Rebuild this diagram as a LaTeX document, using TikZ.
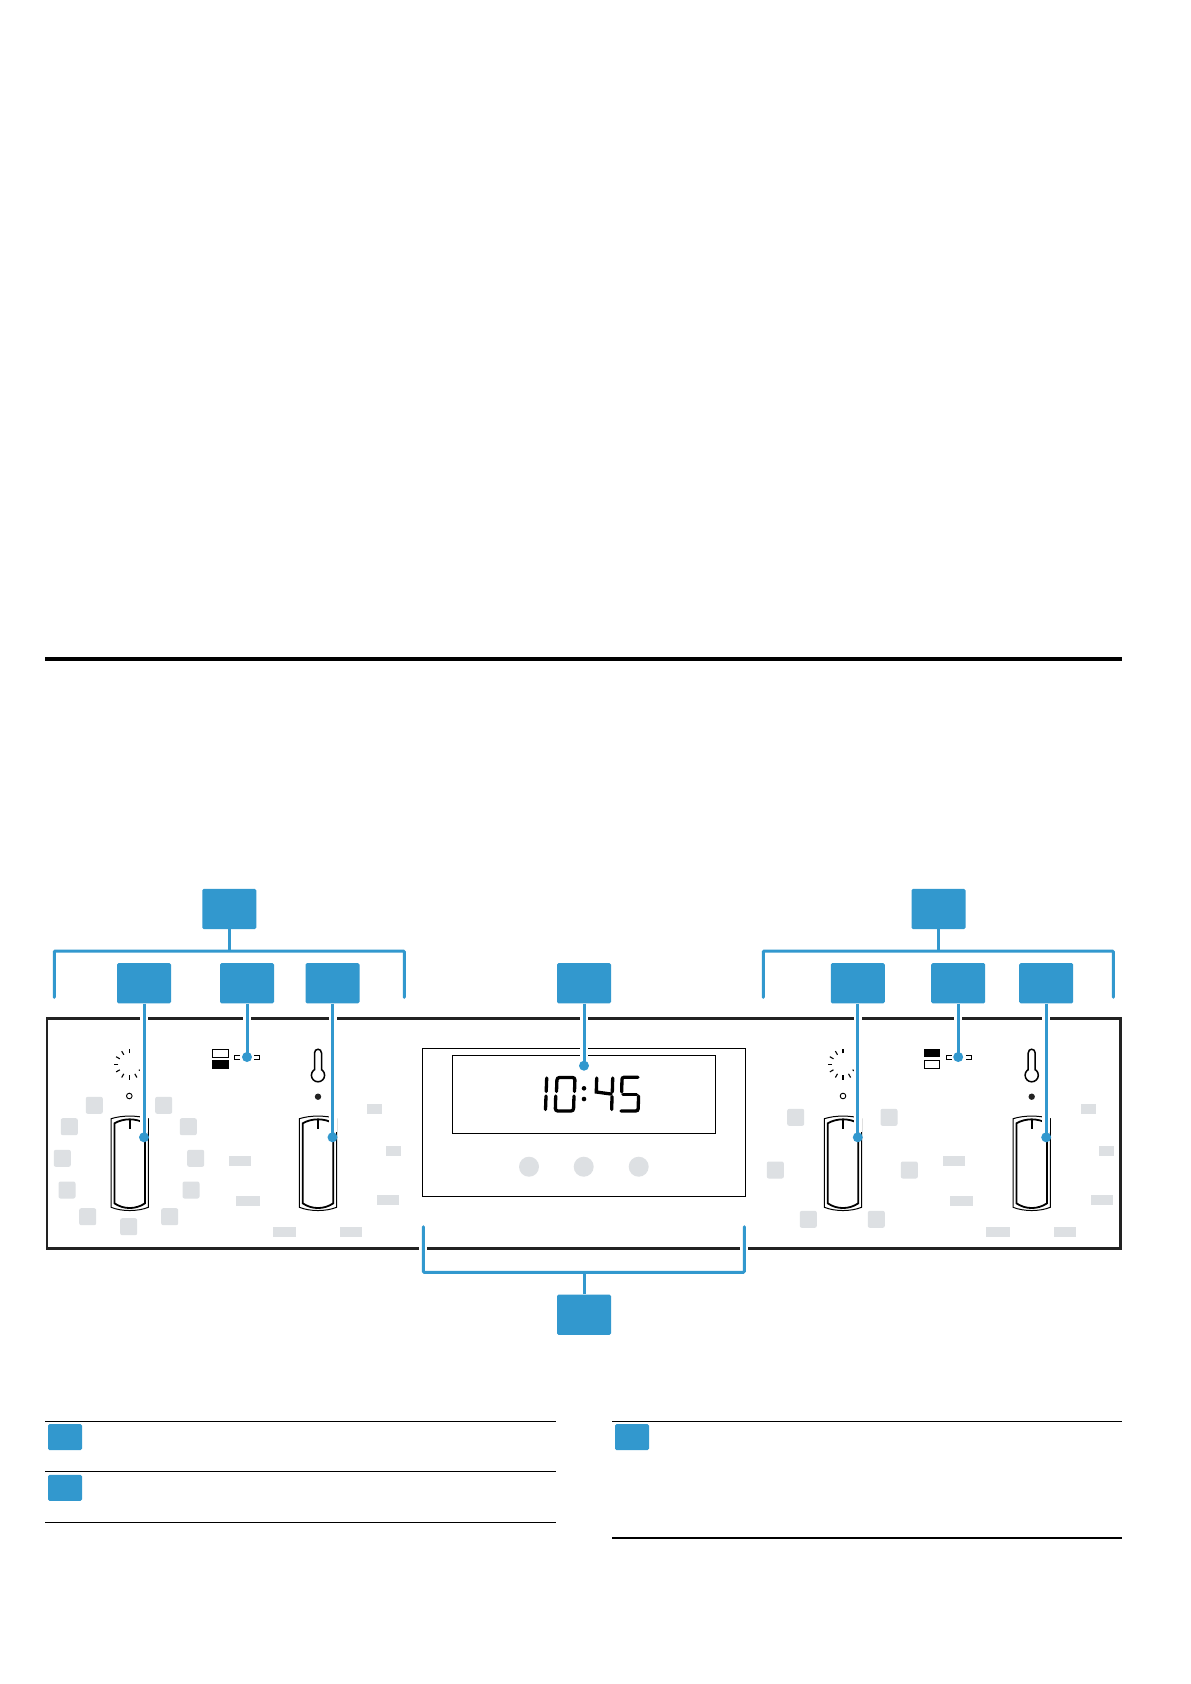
\documentclass[tikz,border=0pt]{standalone}
\usetikzlibrary{positioning}

\definecolor{tagblue}{HTML}{3298CE}
\definecolor{keygrey}{HTML}{DDE0E3}
\definecolor{panelblack}{HTML}{222222}

\tikzset{
    tag/.style={rectangle, rounded corners=1.5pt, fill=tagblue, minimum width=54pt, minimum height=40.3pt, inner sep=0pt},
    smalltag/.style={rectangle, rounded corners=1.5pt, fill=tagblue, minimum width=34pt, minimum height=26pt, inner sep=0pt},
    dot/.style={circle, fill=tagblue, minimum size=10pt, inner sep=0pt},
    lead/.style={tagblue, line width=3pt},
    bracket/.style={tagblue, line width=3pt, rounded corners=1pt, line cap=round},
    halo/.style={white, line width=8pt},
    rule/.style={black, line width=1.2pt},
    greykey/.style={rectangle, rounded corners=2pt, fill=keygrey, minimum size=17pt, inner sep=0pt},
    greylabel/.style={rectangle, fill=keygrey, minimum height=10.3pt, inner sep=0pt},
    button/.style={circle, fill=keygrey, minimum size=20pt, inner sep=0pt},
    segment/.style={black, line width=3.3pt, line cap=round},
}

% one rotary knob with its marker
\newcommand{\knob}[1]{
    \begin{scope}[shift={(#1,0)}]
        \draw[line width=1pt] (-18.6,1118.7) .. controls (-8,1115.2) and (8,1115.2) .. (18.6,1118.7) -- (18.6,1207.3) .. controls (8,1211.6) and (-8,1211.6) .. (-18.6,1207.3) -- cycle;
        \draw[line width=1.8pt] (-15.3,1123.3) .. controls (-6,1118) and (6,1118) .. (15.3,1123.3) -- (15.3,1203.3) .. controls (6,1209.6) and (-6,1209.6) .. (-15.3,1203.3) -- cycle;
        \draw[line width=1.8pt] (0,1119) -- (0,1129);
    \end{scope}
}
% spinning mode symbol and open lamp
\newcommand{\spinner}[1]{
    \begin{scope}[shift={(#1,1064.3)}]
        \foreach \a in {-90,-120,-150,-180,-210,-240,-270,-300,-330}
            \draw[line width=1.1pt] (\a:11) -- (\a:15.2);
    \end{scope}
    \node[circle, draw, line width=0.9pt, minimum size=5.6pt, inner sep=0pt] (lamp#1) at (#1,1096) {};
}
% thermometer symbol and filled lamp
\newcommand{\thermo}[1]{
    \begin{scope}[shift={(#1,0)}]
        \draw[line width=1.5pt] (0,1075.2) circle[radius=6.6];
        \draw[line width=1.5pt, fill=white] (-3.5,1069.8) -- (-3.5,1053) .. controls (-3.5,1048) and (3.5,1048) .. (3.5,1053) -- (3.5,1069.8);
    \end{scope}
    \node[circle, fill=panelblack, minimum size=6.4pt, inner sep=0pt] (temp#1) at (#1,1096.7) {};
}

\begin{document}
\begin{tikzpicture}[x=1pt, y=-1pt]
    \useasboundingbox (0,0) rectangle (1191,1684);
    \fill[white] (0,0) rectangle (1191,1684);

    \draw[black, line width=4.6pt] (45,659) -- (1122,659);

    % panel
    \node[draw=panelblack, line width=2.7pt, minimum width=1073.7pt, minimum height=230pt, inner sep=0pt] (panel) at (583.85,1133.3) {};

    % left cooker zone
    \foreach \x/\y [count=\i] in {94.3/1105.3, 163.7/1105.3, 69.3/1126.7, 188.3/1126.7, 62.3/1158.3, 195.7/1158.3, 67/1190, 191/1190, 87.7/1216.7, 169.7/1216.7, 128.7/1226.7}
        \node[greykey] (keyL\i) at (\x,\y) {};
    \foreach \x/\y/\w [count=\i] in {374.3/1109.3/15, 393.3/1151/15, 240/1161.3/22, 248/1200.7/24, 388/1200/22, 284.3/1231.7/23, 350.7/1231.7/22}
        \node[greylabel, minimum width=\w pt] (scaleL\i) at (\x,\y) {};
    \spinner{129.3}
    \thermo{318}
    \knob{129.7}
    \knob{318}

    % right cooker zone
    \foreach \x/\y [count=\i] in {795.7/1117.3, 889/1117.3, 775.3/1170, 909.3/1170, 808.3/1219.3, 876.3/1219.3}
        \node[greykey] (keyR\i) at (\x,\y) {};
    \foreach \x/\y/\w [count=\i] in {1088.3/1109.3/15, 1106.3/1151/15, 954/1161.3/22, 961.3/1200.7/23, 1102/1200/22, 998/1231.7/24, 1065/1231.7/22}
        \node[greylabel, minimum width=\w pt] (scaleR\i) at (\x,\y) {};
    \spinner{843}
    \thermo{1031.7}
    \knob{843}
    \knob{1031.7}

    % zone selector symbols
    \draw[line width=1pt] (212.7,1049.3) rectangle (228,1057);
    \fill[black] (212.2,1060) rectangle (228.5,1068.5);
    \draw[line width=1pt] (240,1055.3) -- (234.3,1055.3) -- (234.3,1059.3) -- (240,1059.3);
    \draw[line width=1pt] (254,1055.3) -- (259.7,1055.3) -- (259.7,1059.3) -- (254,1059.3);
    \fill[black] (923.6,1049) rectangle (939.7,1057.3);
    \draw[line width=1pt] (924,1060) rectangle (939.3,1068.3);
    \draw[line width=1pt] (951.7,1055.3) -- (946,1055.3) -- (946,1059.3) -- (951.7,1059.3);
    \draw[line width=1pt] (966,1055.3) -- (971.7,1055.3) -- (971.7,1059.3) -- (966,1059.3);

    % display
    \node[draw, line width=1pt, minimum width=323.4pt, minimum height=148pt, inner sep=0pt] (unit) at (584,1122.3) {};
    \node[draw, line width=1pt, minimum width=263.4pt, minimum height=78pt, inner sep=0pt] (screen) at (584,1094.3) {};
    \node[button] (btnA) at (529,1166.7) {};
    \node[button] (btnB) at (583.7,1166.7) {};
    \node[button] (btnC) at (638.7,1166.7) {};

    % 10:45
    \draw[segment] (546.7,1078) -- (546.2,1091.5);
    \draw[segment] (546,1096) -- (545.5,1109.5);
    \draw[segment, rounded corners=2.5pt] (556.5,1091.5) -- (557,1077.5) -- (575,1077.5) -- (574.5,1091.5);
    \draw[segment, rounded corners=2.5pt] (555.7,1096) -- (555.3,1111) -- (573.5,1111) -- (574,1096);
    \fill (584,1088.3) circle[radius=2.3];
    \fill (584,1099) circle[radius=2.3];
    \draw[segment] (596.7,1078) -- (596.3,1092) -- (611,1094);
    \draw[segment] (612.7,1078) -- (612.3,1092);
    \draw[segment] (612,1096.5) -- (611.7,1109.5);
    \draw[segment, rounded corners=2pt] (638,1077.3) -- (622,1077.3) -- (621.7,1092);
    \draw[segment] (623,1094.2) -- (636.5,1094.2);
    \draw[segment, rounded corners=2.5pt] (638.5,1096) -- (638.2,1111) -- (621,1111);

    % tags
    \node[tag] (zoneL) at (229.3,909) {};
    \node[tag] (zoneR) at (938.5,909) {};
    \node[tag] (modeL) at (144,983.2) {};
    \node[tag] (selL) at (247,983.2) {};
    \node[tag] (tempL) at (332.5,983.2) {};
    \node[tag] (disp) at (584,983.2) {};
    \node[tag] (modeR) at (857.8,983.2) {};
    \node[tag] (selR) at (958.2,983.2) {};
    \node[tag] (tempR) at (1046.2,983.2) {};
    \node[tag] (ctrl) at (584,1314.7) {};

    % end points
    \node[dot] (dotmodeL) at (144,1137.3) {};
    \node[dot] (dotselL) at (247,1057) {};
    \node[dot] (dottempL) at (332.5,1137.3) {};
    \node[dot] (dotdisp) at (584,1065.7) {};
    \node[dot] (dotmodeR) at (857.8,1137.3) {};
    \node[dot] (dotselR) at (958.2,1057) {};
    \node[dot] (dottempR) at (1046.2,1137.3) {};

    % leaders
    \foreach \a/\b in {modeL/dotmodeL, selL/dotselL, tempL/dottempL, disp/dotdisp, modeR/dotmodeR, selR/dotselR, tempR/dottempR} {
        \draw[halo] (\a.south) -- (\b.north);
        \draw[lead] (\a.south) -- (\b.center);
    }

    % brackets
    \coordinate (bLa) at (54.3,997.3);
    \coordinate (bLb) at (54.3,951);
    \coordinate (bLc) at (404.3,951);
    \coordinate (bLd) at (404.3,997.3);
    \coordinate (bRa) at (763.3,997.3);
    \coordinate (bRb) at (763.3,951);
    \coordinate (bRc) at (1113.3,951);
    \coordinate (bRd) at (1113.3,997.3);
    \coordinate (bBa) at (423.3,1226.7);
    \coordinate (bBb) at (423.3,1272.3);
    \coordinate (bBc) at (744.3,1272.3);
    \coordinate (bBd) at (744.3,1226.7);
    \draw[bracket] (bLa) -- (bLb) -- (bLc) -- (bLd);
    \draw[bracket] (bRa) -- (bRb) -- (bRc) -- (bRd);
    \draw[lead] (zoneL.south) -- (zoneL.south |- bLb);
    \draw[lead] (zoneR.south) -- (zoneR.south |- bRb);
    \draw[halo] (bBa) -- (bBb);
    \draw[halo] (bBd) -- (bBc);
    \draw[bracket] (bBa) -- (bBb) -- (bBc) -- (bBd);
    \draw[lead] (ctrl.north) -- (ctrl.north |- bBb);

    % key tables
    \coordinate (ruleA) at (45,1421.3);
    \coordinate (ruleB) at (45,1471.3);
    \coordinate (ruleC) at (45,1522.3);
    \coordinate (ruleD) at (612.3,1421.3);
    \coordinate (ruleE) at (612.3,1538);
    \draw[rule] (ruleA) -- ++(510.7,0);
    \draw[rule] (ruleB) -- ++(510.7,0);
    \draw[rule] (ruleC) -- ++(510.7,0);
    \draw[rule] (ruleD) -- ++(509.7,0);
    \draw[rule] (ruleE) -- ++(509.7,0);
    \node[smalltag] (keyA) at (65,1437) {};
    \node[smalltag] (keyB) at (65,1487.8) {};
    \node[smalltag] (keyC) at (632,1437) {};
\end{tikzpicture}
\end{document}
